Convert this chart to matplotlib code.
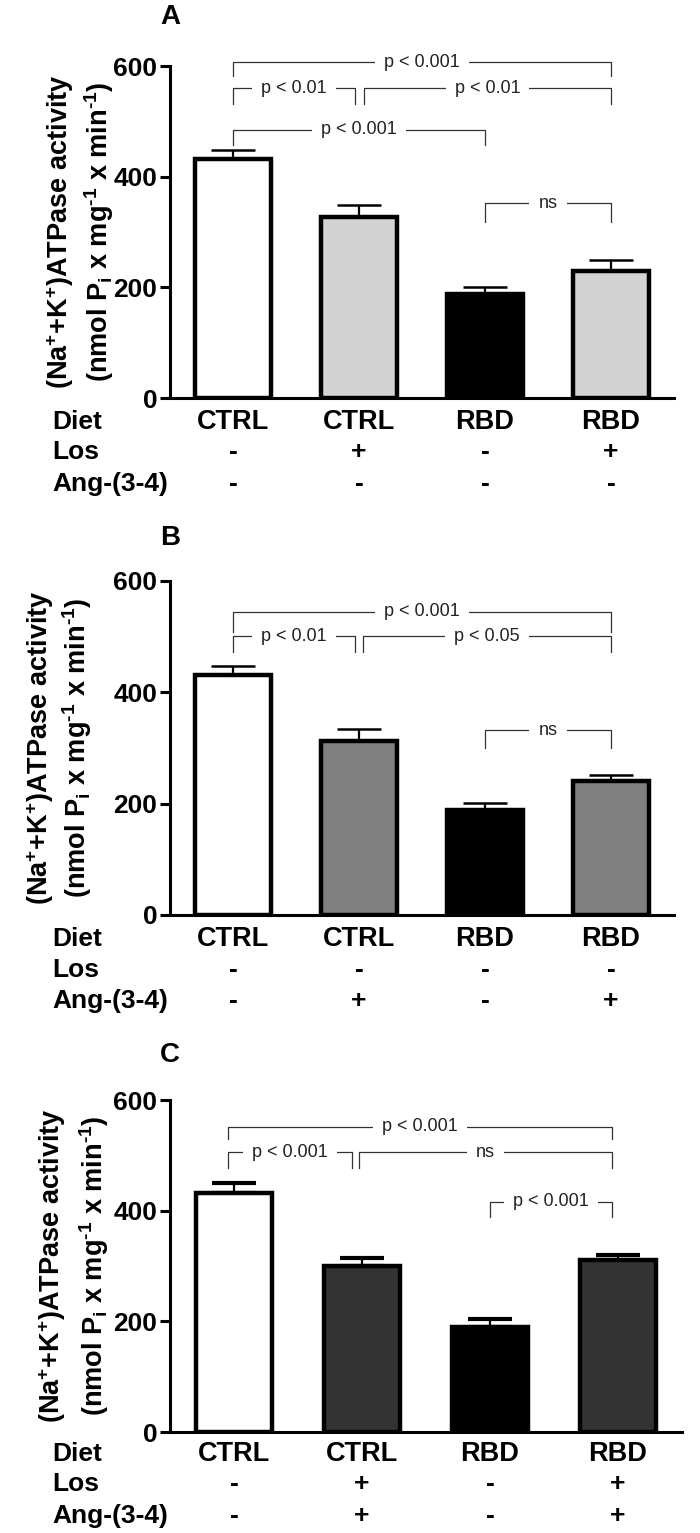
import matplotlib
matplotlib.use('Agg')
import matplotlib.pyplot as plt
import numpy as np

plt.rcParams['font.family'] = ['Liberation Sans', 'DejaVu Sans']
plt.rcParams['mathtext.fontset'] = 'custom'
plt.rcParams['mathtext.rm'] = 'Liberation Sans:bold'
plt.rcParams['mathtext.default'] = 'rm'

# data
diet = ['CTRL', 'CTRL', 'RBD', 'RBD']

means_A = [432, 327, 188, 230]
err_A = [16, 22, 13, 19]
los_A = ['-', '+', '-', '+']
ang_A = ['-', '-', '-', '-']

means_B = [432, 313, 189, 241]
err_B = [16, 22, 13, 11]
los_B = ['-', '-', '-', '-']
ang_B = ['-', '+', '-', '+']

means_C = [432, 300, 190, 311]
err_C = [18, 14, 14, 9]
los_C = ['-', '+', '-', '+']
ang_C = ['-', '+', '-', '+']

colors_A = ['white', '#d3d3d3', 'black', '#d3d3d3']
colors_B = ['white', '#808080', 'black', '#808080']
colors_C = ['white', '#333333', 'black', '#333333']

# brackets: (x1, x2, y, y_end, label)
brackets_A = [(0, 3, 607, 582, 'p < 0.001'),
              (0, 0.97, 560, 531, 'p < 0.01'),
              (1.04, 3, 560, 531, 'p < 0.01'),
              (0, 2, 485, 458, 'p < 0.001'),
              (2, 3, 352, 318, 'ns')]
brackets_B = [(0, 3, 545, 508, 'p < 0.001'),
              (0, 0.97, 501, 473, 'p < 0.01'),
              (1.03, 3, 501, 473, 'p < 0.05'),
              (2, 3, 332, 300, 'ns')]
brackets_C = [(-0.05, 2.95, 552, 530, 'p < 0.001'),
              (-0.05, 0.92, 506, 477, 'p < 0.001'),
              (0.98, 2.95, 506, 477, 'ns'),
              (2.0, 2.95, 416, 388, 'p < 0.001')]

W, H = 700, 1533
fig = plt.figure(figsize=(W / 100, H / 100), dpi=100)

ylab1 = '(Na$^{+}$+K$^{+}$)ATPase activity'
ylab2 = r'(nmol P$_{i}$ x mg$^{\text{-1}}$ x min$^{\text{-1}}$)'
PX = 0.72  # points per pixel


def panel(rect, means, errs, colors, los, ang, brackets, letter, letter_y,
          ylab_x, cap_lw, row_off):
    l, top, r, bot = rect
    ax = fig.add_axes([l / W, 1 - bot / H, (r - l) / W, (bot - top) / H])
    x = np.arange(len(means))
    ax.bar(x, means, width=0.6, color=colors, edgecolor='black',
           linewidth=3.2, zorder=2)
    ax.errorbar(x, means, yerr=[np.zeros(len(errs)), errs], fmt='none',
                ecolor='black', elinewidth=1.6, capsize=16, capthick=cap_lw,
                zorder=1)
    ax.set_xlim(-0.5, 3.5)
    ax.set_ylim(0, 600)
    ax.set_yticks([0, 200, 400, 600])
    for s in ['top', 'right']:
        ax.spines[s].set_visible(False)
    for s in ['left', 'bottom']:
        ax.spines[s].set_linewidth(2.2)
    ax.tick_params(axis='y', length=7, width=2.2, labelsize=19, pad=2)
    for t in ax.get_yticklabels():
        t.set_fontweight('bold')
    ax.tick_params(axis='x', length=0, labelbottom=False)

    # brackets
    for x1, x2, y, y2, lab in brackets:
        ax.plot([x1, x1, x2, x2], [y2, y, y, y2], color='#333333', lw=0.9,
                clip_on=False, zorder=3)
        ax.text((x1 + x2) / 2, y, lab, ha='center', va='center',
                fontsize=13, color='#222222', zorder=4,
                bbox=dict(boxstyle='square,pad=0.5', fc='white', ec='none'))

    # group rows below the axis
    rows = [('Diet', diet), ('Los', los), ('Ang-(3-4)', ang)]
    for k, (name, vals) in enumerate(rows):
        off = -row_off[k] * PX
        ax.annotate(name, xy=(52, 0), xycoords=('figure pixels', 'axes fraction'),
                    xytext=(0, off), textcoords='offset points',
                    ha='left', va='center', fontsize=19, fontweight='bold')
        for i, v in enumerate(vals):
            ax.annotate(v, xy=(i, 0), xycoords=('data', 'axes fraction'),
                        xytext=(0, off), textcoords='offset points',
                        ha='center', va='center', fontsize=19.5 if k == 0 else 19,
                        fontweight='bold')

    yc = 1 - (top + bot) / 2 / H
    fig.text(ylab_x[0] / W, yc, ylab1, rotation=90, ha='center', va='center',
             fontsize=19.5, fontweight='bold')
    fig.text(ylab_x[1] / W, yc, ylab2, rotation=90, ha='center', va='center',
             fontsize=19.5, fontweight='bold')
    fig.text(170 / W, 1 - letter_y / H, letter, ha='center', va='center',
             fontsize=20, fontweight='bold')
    return ax


panel((170, 66, 674, 398), means_A, err_A, colors_A, los_A, ang_A, brackets_A,
      'A', 17, (60, 99), 1.8, (24, 54, 86))
panel((170, 581, 674, 915), means_B, err_B, colors_B, los_B, ang_B, brackets_B,
      'B', 538, (40, 77), 1.8, (24, 55, 86))
panel((170, 1100, 682, 1432), means_C, err_C, colors_C, los_C, ang_C, brackets_C,
      'C', 1055, (52, 94), 3.0, (22, 52, 84))

fig.savefig('out.png', dpi=100)
